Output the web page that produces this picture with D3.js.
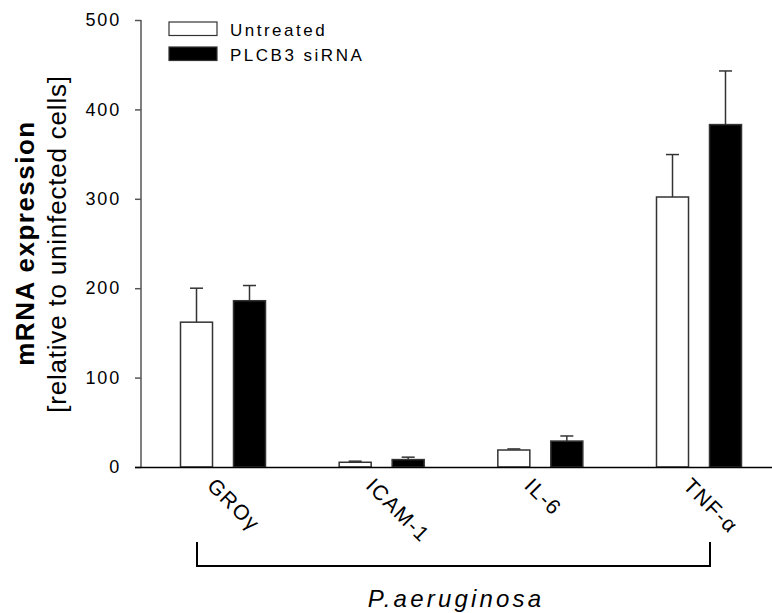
<!DOCTYPE html>
<html>
<head>
<meta charset="utf-8">
<script src="https://cdnjs.cloudflare.com/ajax/libs/d3/7.8.5/d3.min.js"></script>
<style>
  body { margin: 0; background: #fff; }
  svg { font-family: Arial, "Liberation Sans", sans-serif; }
</style>
</head>
<body>
<svg id="chart" width="772" height="613"></svg>
<script>
// data
const genes = ["GROγ", "ICAM-1", "IL-6", "TNF-α"];
const seriesNames = ["Untreated", "PLCB3 siRNA"];
const untreated = [162, 5.3, 19, 302];
const untreatedErr = [38, 1.2, 1.2, 47.5];
const sirna = [186, 8.3, 29, 383];
const sirnaErr = [17, 2.7, 5.7, 60];
const yTicks = [0, 100, 200, 300, 400, 500];

const svg = d3.select("#chart");

const values = [untreated, sirna];
const errs = [untreatedErr, sirnaErr];
const fills = ["#fff", "#000"];

const rows = [];
genes.forEach((g, i) => {
  seriesNames.forEach((s, j) => {
    rows.push({ gene: g, series: s, value: values[j][i], err: errs[j][i], fill: fills[j] });
  });
});

// scales
const y = d3.scaleLinear().domain([0, 500]).range([467, 20]);
const x0 = d3.scalePoint().domain(genes).range([223, 699]);
const x1 = d3.scaleBand().domain(seriesNames).range([-42.5, 42.5]).paddingInner(0.396);

// y axis
const yAxis = svg.append("g")
  .attr("transform", "translate(141,0)")
  .call(d3.axisLeft(y).tickValues(yTicks).tickSize(6).tickPadding(14));
yAxis.select(".domain").attr("stroke", "#555").attr("stroke-width", 1.5)
  .attr("d", `M0,${y(500)}V${y(0)}`);
yAxis.selectAll(".tick line").attr("stroke", "#555").attr("stroke-width", 1.5);
yAxis.selectAll(".tick text")
  .attr("font-size", "18px")
  .attr("letter-spacing", "1.8px")
  .attr("fill", "#000");

// bars
svg.append("g").selectAll("rect")
  .data(rows)
  .enter()
  .append("rect")
  .attr("x", d => x0(d.gene) + x1(d.series))
  .attr("y", d => y(d.value))
  .attr("width", x1.bandwidth())
  .attr("height", d => y(0) - y(d.value))
  .attr("fill", d => d.fill)
  .attr("stroke", "#333")
  .attr("stroke-width", 1.5);

// error bars (upper only)
const eb = svg.append("g").attr("stroke", "#333").attr("stroke-width", 1.5);
rows.forEach(d => {
  const cx = x0(d.gene) + x1(d.series) + x1.bandwidth() / 2;
  eb.append("line")
    .attr("x1", cx).attr("x2", cx)
    .attr("y1", y(d.value)).attr("y2", y(d.value + d.err));
  eb.append("line")
    .attr("x1", cx - 6.5).attr("x2", cx + 6.5)
    .attr("y1", y(d.value + d.err)).attr("y2", y(d.value + d.err));
});

// x axis line
svg.append("line")
  .attr("x1", 135).attr("x2", 772)
  .attr("y1", y(0) + 0.5).attr("y2", y(0) + 0.5)
  .attr("stroke", "#000")
  .attr("stroke-width", 1.5);

// rotated category labels
svg.append("g").selectAll("text")
  .data(genes)
  .enter()
  .append("text")
  .attr("transform", d => `translate(${x0(d) - 17},487) rotate(45)`)
  .attr("font-size", "21px")
  .attr("letter-spacing", "1.5px")
  .attr("fill", "#000")
  .text(d => d);

// bracket under the categories
svg.append("path")
  .attr("d", "M197,542V566H710V542")
  .attr("fill", "none")
  .attr("stroke", "#000")
  .attr("stroke-width", 2);

svg.append("text")
  .attr("x", 456)
  .attr("y", 607)
  .attr("text-anchor", "middle")
  .attr("font-size", "24px")
  .attr("font-style", "italic")
  .attr("letter-spacing", "3.2px")
  .text("P.aeruginosa");

// y axis title
svg.append("text")
  .attr("transform", "translate(34,243) rotate(-90)")
  .attr("text-anchor", "middle")
  .attr("font-size", "26px")
  .attr("font-weight", "bold")
  .attr("letter-spacing", "1.5px")
  .text("mRNA expression");

svg.append("text")
  .attr("transform", "translate(66,244) rotate(-90)")
  .attr("text-anchor", "middle")
  .attr("font-size", "26px")
  .attr("letter-spacing", "0.8px")
  .text("[relative to uninfected cells]");

// legend
const legend = svg.append("g").attr("transform", "translate(169,22)");
seriesNames.forEach((s, j) => {
  legend.append("rect")
    .attr("x", 0).attr("y", j * 25)
    .attr("width", 48).attr("height", 13.5)
    .attr("fill", fills[j])
    .attr("stroke", "#333")
    .attr("stroke-width", 1.2);
  legend.append("text")
    .attr("x", 61).attr("y", j * 25 + 13.5)
    .attr("font-size", "17px")
    .attr("letter-spacing", "2.5px")
    .text(s);
});
</script>
</body>
</html>
